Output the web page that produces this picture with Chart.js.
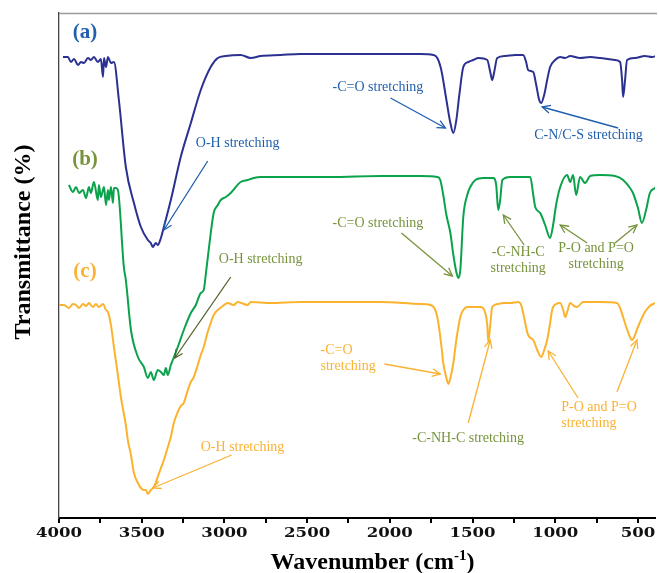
<!DOCTYPE html>
<html>
<head>
<meta charset="utf-8">
<title>FTIR spectra</title>
<script src="https://cdn.jsdelivr.net/npm/chart.js@4.4.1/dist/chart.umd.min.js"></script>
<style>
  html, body { margin: 0; padding: 0; background: #fff; }
  #wrap { width: 659px; height: 573px; }
</style>
</head>
<body>
<div id="wrap"><canvas id="ftir" width="659" height="573"></canvas></div>
<script>
/* ---------- data ---------- */
const seriesLabels = ["(a)", "(b)", "(c)"];

// (a) wavenumber (cm-1) / transmittance (arb.)
const wnA = [3976,3946,3928,3909,3885,3867,3849,3825,3807,3789,3765,3747,3734,3728,3716,3704,3686,3668,3638,3596,
  3547,3505,3463,3445,3433,3415,3403,3384,3366,3324,3264,3203,3143,3083,3040,2992,2902,2841,2781,2660,
  2540,2358,2057,1815,1737,1713,1689,1658,1634,1616,1598,1580,1556,1526,1495,1465,1411,1393,1381,1369,
  1351,1302,1242,1194,1176,1164,1133,1115,1097,1085,1067,1049,1031,1001,970,940,910,850,789,729,
  639,608,596,590,578,566,518,458,415,379];
const tA = [92.2,92.2,91.2,91.8,90.6,91.2,91.0,92.0,91.6,92.2,91.2,91.8,88.2,92.0,90.2,92.2,91.0,91.2,83.6,70.2,
  63.0,58.2,55.6,55.0,54.2,55.0,54.6,56.0,58.2,63.6,72.2,79.0,85.6,90.2,92.0,92.4,92.6,92.0,92.4,92.6,
  92.8,92.8,92.8,92.8,92.6,92.0,89.6,83.6,79.0,77.0,79.6,84.6,90.2,91.2,91.6,92.0,91.6,89.2,87.6,89.2,
  92.0,92.4,92.6,92.6,91.2,89.6,89.2,86.6,83.6,83.0,84.6,87.6,90.2,91.6,92.2,92.0,92.4,92.0,92.2,92.0,
  91.6,91.2,87.6,84.2,87.6,91.6,92.0,92.4,92.2,92.6];

// (b)
const wnB = [3940,3916,3897,3879,3855,3837,3819,3807,3789,3765,3759,3747,3728,3716,3704,3698,3686,3674,3668,3656,
  3644,3608,3596,3565,3523,3487,3463,3445,3427,3403,3384,3366,3354,3342,3324,3312,3282,3252,3234,3203,
  3173,3143,3125,3113,3095,3065,3040,3022,2992,2962,2902,2859,2823,2781,2540,2358,2057,1815,1713,1695,
  1677,1658,1634,1616,1598,1586,1574,1556,1532,1514,1483,1435,1375,1357,1345,1333,1320,1272,1151,1133,
  1121,1091,1061,1031,1013,995,970,928,910,892,874,850,820,789,729,639,590,548,530,500,
  476,451,428,397,379];
const tB = [66.6,65.2,66.2,65.0,65.6,64.0,66.2,65.0,67.2,63.6,66.6,64.2,66.2,62.6,65.6,63.6,66.2,63.0,66.0,66.0,
  65.6,50.2,47.6,37.6,32.2,30.2,28.0,29.2,27.6,29.6,29.2,28.6,30.0,28.6,30.6,31.6,34.2,37.0,38.6,41.0,
  42.6,45.0,45.6,48.6,53.6,61.0,62.6,63.6,64.2,65.0,67.2,67.6,68.0,68.2,68.2,68.2,68.4,68.4,68.2,67.6,
  64.6,60.6,57.0,52.6,49.2,48.0,49.6,60.2,64.6,66.2,67.6,68.0,68.0,66.6,61.6,63.6,67.6,68.2,68.2,64.6,
  62.2,61.0,58.6,56.0,58.6,62.6,66.2,68.6,67.2,68.6,64.6,68.2,67.0,68.4,68.6,68.4,67.6,66.0,65.0,62.0,
  59.0,61.6,65.0,66.0,66.6];

// (c)
const wnC = [4000,3970,3940,3916,3897,3879,3855,3837,3819,3795,3777,3759,3734,3716,
  3704,3686,3668,3644,3626,3596,3584,3565,3547,3523,3505,3487,3475,3463,3445,3427,3403,3384,3366,3342,
  3324,3306,3282,3264,3246,3221,3203,3185,3161,3143,3125,3101,3083,3065,3040,3010,2980,2944,2920,2859,
  2841,2721,2540,2057,1815,1755,1713,1689,1677,1658,1646,1634,1616,1598,1574,1556,1532,1453,1423,1411,
  1405,1393,1381,1345,1314,1272,1224,1206,1194,1164,1133,1109,1085,1067,1049,1031,1019,995,970,952,
  940,928,910,886,868,832,729,627,608,590,560,536,518,500,458,428,409,391];
const tC = [42.6,42.6,42.0,42.8,42.6,42.0,42.8,42.4,43.0,42.2,42.8,42.2,42.8,41.6,
  41.2,38.6,34.2,28.6,24.2,18.6,15.6,12.6,9.0,7.0,6.0,5.6,5.6,4.8,5.6,6.2,8.2,10.0,11.6,14.2,
  16.2,19.0,21.2,22.4,23.0,25.6,27.2,28.2,30.6,32.6,34.2,37.2,39.0,40.6,41.6,42.4,43.0,42.6,43.2,42.6,
  43.2,43.0,43.2,43.2,42.8,42.6,40.2,34.6,31.0,28.0,26.8,28.0,31.0,35.6,40.2,41.6,42.2,42.2,41.0,38.6,
  35.2,38.6,42.2,42.8,43.0,43.0,43.2,42.6,41.0,36.6,35.6,33.6,32.2,33.6,35.6,39.0,41.6,42.8,43.0,41.6,
  40.2,41.2,43.0,42.4,42.2,43.2,43.2,43.0,42.0,40.2,37.2,35.6,36.6,38.2,41.2,42.4,42.8,43.0];

const xMajor = [4000, 3500, 3000, 2500, 2000, 1500, 1000, 500];
const xMinor = [3750, 3250, 2750, 2250, 1750, 1250, 750];

/* ---------- colours ---------- */
const C_A = "#2b3191", C_B = "#0aa24b", C_C = "#fbb32f";
const T_A = "#1f5fad", T_B = "#77933c", T_B2 = "#4f6228", T_C = "#f9b233";

/* ---------- annotations (text anchor + arrows, in data units) ---------- */
const notes = [
  { lines: ["O-H stretching"], at: [3173, 75], align: "left", color: T_A, arrows: [[[3101, 71.4], [3366, 57.6]]], ac: T_A },
  { lines: ["-C=O stretching"], at: [2346, 86.2], align: "left", color: T_A, arrows: [[[1996, 84], [1664, 78]]], ac: T_A },
  { lines: ["C-N/C-S stretching"], at: [1127, 76.6], align: "left", color: T_A, arrows: [[[620, 78], [1079, 82.2]]], ac: T_A },

  { lines: ["O-H stretching"], at: [3034, 51.8], align: "left", color: T_B, arrows: [[[2962, 48.2], [3300, 32]]], ac: T_B2 },
  { lines: ["-C=O stretching"], at: [2346, 59], align: "left", color: T_B, arrows: [[[1930, 57], [1622, 48.4]]], ac: T_B },
  { lines: ["-C-NH-C", "stretching"], at: [1224, 53.2], align: "center", color: T_B, arrows: [[[1188, 54.6], [1314, 60.6]]], ac: T_B },
  { lines: ["P-O and P=O", "stretching"], at: [753, 54], align: "center", color: T_B,
    arrows: [[[807, 55], [970, 58.6]], [[639, 55], [506, 58.6]]], ac: T_B },

  { lines: ["-C=O", "stretching"], at: [2419, 33.6], align: "left", color: T_C, arrows: [[[2033, 30.8], [1695, 28.8]]], ac: T_C },
  { lines: ["-C-NH-C stretching"], at: [1864, 16], align: "left", color: T_B, arrows: [[[1526, 19], [1393, 35.6]]], ac: T_C },
  { lines: ["P-O and P=O", "stretching"], at: [964, 22.2], align: "left", color: T_C,
    arrows: [[[862, 24], [1043, 33.4]], [[627, 25.2], [506, 35.6]]], ac: T_C },
  { lines: ["O-H stretching"], at: [3143, 14.2], align: "left", color: T_C, arrows: [[[2956, 12.6], [3433, 6]]], ac: T_C },
];
const tags = [
  { text: seriesLabels[0], at: [3843, 97], color: T_A },
  { text: seriesLabels[1], at: [3843, 71.6], color: T_B },
  { text: seriesLabels[2], at: [3843, 49.2], color: T_C },
];

const pts = (xs, ys) => xs.map((x, i) => ({ x, y: ys[i] }));

function arrow(g, x1, y1, x2, y2) {
  const ang = Math.atan2(y2 - y1, x2 - x1), h = 9, sp = 0.45;
  g.beginPath(); g.moveTo(x1, y1); g.lineTo(x2, y2); g.stroke();
  g.beginPath();
  g.moveTo(x2 - h * Math.cos(ang - sp), y2 - h * Math.sin(ang - sp));
  g.lineTo(x2, y2);
  g.lineTo(x2 - h * Math.cos(ang + sp), y2 - h * Math.sin(ang + sp));
  g.stroke();
}

/* ---------- decorations: frame, tick labels, titles, notes ---------- */
const decor = {
  id: "decor",
  afterDraw(chart) {
    const g = chart.ctx, a = chart.chartArea, xs = chart.scales.x, ys = chart.scales.y;
    const X = (v) => xs.getPixelForValue(v), Y = (v) => ys.getPixelForValue(v);
    g.save();
    // top frame line
    g.strokeStyle = "#9a9a9a"; g.lineWidth = 1.5;
    g.beginPath(); g.moveTo(a.left, a.top + 0.5); g.lineTo(chart.width - 2, a.top + 0.5); g.stroke();

    // tick labels (wide bold digits)
    g.fillStyle = "#111"; g.font = 'bold 12px "DejaVu Serif"';
    g.textAlign = "center"; g.textBaseline = "middle";
    xMajor.forEach((v) => {
      g.save(); g.translate(X(v), a.bottom + 16); g.scale(1.38, 1); g.fillText(String(v), 0, 0); g.restore();
    });

    // x title with superscript
    const big = 'bold 24px "Liberation Serif"', small = 'bold 15px "Liberation Serif"';
    const s1 = "Wavenumber (cm", s2 = "-1", s3 = ")";
    g.font = big; const w1 = g.measureText(s1).width, w3 = g.measureText(s3).width;
    g.font = small; const w2 = g.measureText(s2).width;
    let x0 = a.left + (a.right - a.left) * 0.526 - (w1 + w2 + w3) / 2;
    const yb = a.bottom + 51;
    g.textAlign = "left"; g.textBaseline = "alphabetic"; g.fillStyle = "#000";
    g.font = big; g.fillText(s1, x0, yb);
    g.font = small; g.fillText(s2, x0 + w1, yb - 9);
    g.font = big; g.fillText(s3, x0 + w1 + w2, yb);

    // y title
    g.save();
    g.translate(24, a.top + 229); g.rotate(-Math.PI / 2);
    g.textAlign = "center"; g.textBaseline = "middle"; g.font = big;
    g.fillText("Transmittance (%)", 0, 0);
    g.restore();

    // series tags
    g.font = 'bold 21px "Liberation Serif"'; g.textAlign = "center"; g.textBaseline = "middle";
    tags.forEach((t) => { g.fillStyle = t.color; g.fillText(t.text, X(t.at[0]), Y(t.at[1])); });

    // annotations
    g.font = '14px "Liberation Serif"'; g.textBaseline = "middle";
    notes.forEach((n) => {
      g.fillStyle = n.color; g.textAlign = n.align;
      n.lines.forEach((ln, i) => g.fillText(ln, X(n.at[0]), Y(n.at[1]) + i * 16.5));
      g.strokeStyle = n.ac; g.lineWidth = 1.3;
      n.arrows.forEach(([f, t]) => arrow(g, X(f[0]), Y(f[1]), X(t[0]), Y(t[1])));
    });
    g.restore();
  },
};

/* ---------- chart ---------- */
const line = (label, data, color) => ({
  label, data, borderColor: color, borderWidth: 2, pointRadius: 0, fill: false,
  cubicInterpolationMode: "monotone",
});

new Chart(document.getElementById("ftir"), {
  type: "line",
  data: {
    datasets: [
      line(seriesLabels[0], pts(wnA, tA), C_A),
      line(seriesLabels[1], pts(wnB, tB), C_B),
      line(seriesLabels[2], pts(wnC, tC), C_C),
    ],
  },
  options: {
    responsive: false, animation: false, devicePixelRatio: 1,
    layout: { padding: { top: 13, right: 4, left: 0, bottom: 0 } },
    plugins: { legend: { display: false }, tooltip: { enabled: false } },
    scales: {
      x: {
        type: "linear", reverse: true, min: 397, max: 4000,
        afterBuildTicks: (s) => { s.ticks = xMajor.concat(xMinor).map((v) => ({ value: v })); },
        afterFit: (s) => { s.height = 55; },
        ticks: { display: false },
        grid: { drawOnChartArea: false, drawTicks: true, tickLength: 5, color: "#000", lineWidth: 2 },
        border: { display: true, color: "#000", width: 2 },
      },
      y: {
        min: 0, max: 101,
        afterFit: (s) => { s.width = 59; },
        ticks: { display: false },
        grid: { display: false },
        border: { display: true, color: "#444", width: 1.3 },
      },
    },
  },
  plugins: [decor],
});
</script>
</body>
</html>
